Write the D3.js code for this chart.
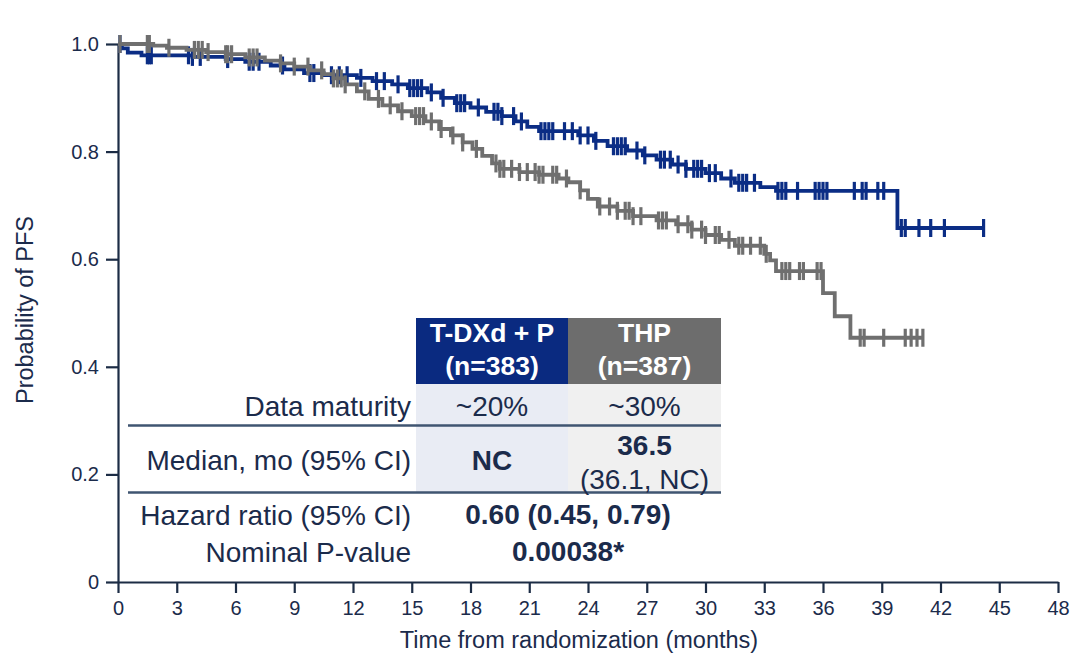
<!DOCTYPE html>
<html lang="en">
<head>
    <meta charset="UTF-8">
    <title>PFS Kaplan-Meier</title>
    <style>
        body {
            margin: 0;
            background-color: white;
        }

        svg {
            display: block;
            font-family: "Liberation Sans", Arial, sans-serif;
        }

        .axis path,
        .axis line {
            stroke: #1c2c45;
            stroke-width: 2.2px;
        }

        .axis text {
            fill: #1b2b4b;
            font-size: 20px;
        }

        .km {
            fill: none;
            stroke-width: 3.8px;
        }

        .censor {
            stroke-width: 3.2px;
        }

        .tbl {
            fill: #1b2b4b;
            font-size: 28px;
        }
    </style>
    <script src="https://d3js.org/d3.v7.min.js"></script>
</head>
<body>

<script>
    const width = 1071;
    const height = 655;

    // T-DXd + P arm: step times (months) and survival after each step
    const tdxdTime = [0, 0.2, 0.5, 1.2, 3.8, 5.5, 6.5, 7.8, 8.5, 9.5, 10.5, 12.2, 13.0, 14.0, 14.8,
                      15.8, 16.5, 17.2, 18.0, 18.8, 19.6, 20.3, 20.9, 21.5, 23.5, 24.3, 25.0, 26.0,
                      26.8, 27.5, 28.3, 29.0, 30.0, 30.8, 31.5, 32.8, 33.6, 39.8];
    const tdxdSurv = [1.0, 0.992, 0.984, 0.979, 0.976, 0.972, 0.967, 0.960, 0.953, 0.946, 0.942, 0.937,
                      0.931, 0.925, 0.918, 0.910, 0.900, 0.890, 0.882, 0.874, 0.866, 0.856, 0.846,
                      0.838, 0.830, 0.820, 0.810, 0.802, 0.793, 0.785, 0.776, 0.768, 0.760, 0.750,
                      0.742, 0.734, 0.727, 0.658];
    const tdxdEnd = 44.2;
    const tdxdCensor = [0.1, 1.5, 1.6, 1.7, 3.6, 3.8, 4.2, 5.6, 6.7, 6.9, 7.2, 8.4, 9.8, 10.0, 10.9,
                        11.3, 11.7, 12.4, 13.2, 13.6, 14.3, 14.9, 15.1, 15.3, 15.5, 16.0, 16.6, 17.3,
                        17.5, 17.7, 18.4, 19.2, 19.4, 19.6, 20.2, 20.6, 21.6, 21.8, 22.0, 22.2, 22.8,
                        23.2, 23.6, 24.0, 24.4, 25.3, 25.5, 25.7, 25.9, 26.5, 26.9, 27.7, 27.9, 28.2,
                        28.6, 29.0, 29.4, 29.6, 29.8, 30.2, 30.5, 31.3, 31.7, 31.9, 32.1, 32.5, 33.7,
                        33.9, 34.1, 34.7, 35.6, 35.8, 36.0, 36.2, 37.6, 38.0, 38.2, 38.8, 39.1, 40.0,
                        40.2, 40.9, 41.5, 42.2, 44.2];

    // THP arm
    const thpTime = [0, 1.8, 2.5, 3.5, 4.5, 5.5, 6.5, 7.5, 8.3, 9.0, 9.8, 10.5, 11.0, 11.6, 12.2,
                     12.8, 13.5, 14.3, 15.0, 15.7, 16.4, 17.0, 17.6, 18.1, 18.6, 19.1, 19.5, 20.5,
                     21.5, 22.5, 23.0, 23.6, 24.0, 24.5, 25.5, 26.3, 27.5, 28.5, 29.3, 30.0, 30.8,
                     31.5, 33.0, 33.3, 33.6, 36.0, 36.6, 37.4];
    const thpSurv = [1.0, 0.997, 0.993, 0.989, 0.985, 0.981, 0.975, 0.969, 0.964, 0.958, 0.951, 0.944,
                     0.936, 0.925, 0.912, 0.898, 0.886, 0.875, 0.866, 0.856, 0.842, 0.830, 0.817,
                     0.805, 0.792, 0.778, 0.768, 0.762, 0.757, 0.750, 0.743, 0.728, 0.712, 0.698,
                     0.690, 0.680, 0.672, 0.665, 0.655, 0.645, 0.636, 0.625, 0.610, 0.598, 0.578,
                     0.537, 0.494, 0.454];
    const thpEnd = 41.1;
    const thpCensor = [0.1, 1.5, 1.6, 2.6, 3.9, 4.1, 4.3, 4.6, 5.5, 5.6, 5.8, 6.7, 6.9, 7.1, 8.3, 9.0,
                       9.7, 10.4, 11.0, 11.2, 11.4, 11.6, 12.6, 13.3, 13.9, 14.5, 15.2, 15.4, 15.6,
                       16.0, 16.5, 17.1, 17.6, 18.3, 19.3, 19.5, 19.7, 20.1, 20.5, 20.9, 21.3, 21.5,
                       21.7, 22.2, 22.4, 22.9, 23.6, 24.6, 25.1, 25.5, 25.9, 26.1, 26.3, 26.7, 27.6,
                       27.8, 28.0, 28.6, 29.1, 29.3, 29.8, 30.0, 30.5, 30.7, 31.2, 31.7, 31.9, 32.3,
                       32.8, 33.1, 33.9, 34.1, 34.3, 34.8, 35.0, 35.7, 35.9, 37.9, 38.1, 39.1, 40.2,
                       40.5, 40.8, 41.1];

    const xTicks = d3.range(0, 49, 3);
    const yTicks = [0, 0.2, 0.4, 0.6, 0.8, 1.0];

    // summary table
    const armNames = ["T-DXd + P", "THP"];
    const armN = ["(n=383)", "(n=387)"];
    const maturity = ["~20%", "~30%"];
    const medianMain = ["NC", "36.5"];
    const medianCI = ["", "(36.1, NC)"];
    const hazardRatio = "0.60 (0.45, 0.79)";
    const pValue = "0.00038*";

    const blue = "#0b2d85";
    const grey = "#6f6f6f";

    const margin = {top: 44, right: 13, bottom: 73, left: 118};

    const svg = d3.select("body")
                  .append("svg")
                  .attr("width", width)
                  .attr("height", height);

    const x = d3.scaleLinear()
                .domain([0, 48])
                .range([margin.left, width - margin.right]);

    const y = d3.scaleLinear()
                .domain([0, 1])
                .range([height - margin.bottom, margin.top]);

    // axes
    svg.append("g")
       .attr("class", "axis")
       .attr("transform", `translate(0,${y(0)})`)
       .call(d3.axisBottom(x).tickValues(xTicks).tickSize(11).tickSizeOuter(0).tickPadding(8));

    svg.append("g")
       .attr("class", "axis")
       .attr("transform", `translate(${x(0)},0)`)
       .call(d3.axisLeft(y).tickValues(yTicks).tickSize(12).tickSizeOuter(0).tickPadding(7)
               .tickFormat(d => d === 0 ? "0" : d3.format(".1f")(d)));

    svg.append("text")
       .attr("x", 579)
       .attr("y", 648)
       .attr("text-anchor", "middle")
       .attr("fill", "#1b2b4b")
       .style("font-size", "23.5px")
       .text("Time from randomization (months)");

    svg.append("text")
       .attr("transform", "translate(33,310) rotate(-90)")
       .attr("text-anchor", "middle")
       .attr("fill", "#1b2b4b")
       .style("font-size", "23.5px")
       .text("Probability of PFS");

    // curves
    function drawArm(times, surv, end, censor, colour) {
        const pts = times.map((t, i) => [t, surv[i]]);
        pts.push([end, surv[surv.length - 1]]);

        const line = d3.line()
                       .x(d => x(d[0]))
                       .y(d => y(d[1]))
                       .curve(d3.curveStepAfter);

        svg.append("path")
           .datum(pts)
           .attr("class", "km")
           .attr("stroke", colour)
           .attr("d", line);

        const survAt = t => surv[Math.max(0, d3.bisectRight(times, t) - 1)];

        svg.append("g")
           .selectAll("line")
           .data(censor)
           .enter()
           .append("line")
           .attr("class", "censor")
           .attr("stroke", colour)
           .attr("x1", d => x(d))
           .attr("x2", d => x(d))
           .attr("y1", d => y(survAt(d)) - 9)
           .attr("y2", d => y(survAt(d)) + 9);
    }

    drawArm(tdxdTime, tdxdSurv, tdxdEnd, tdxdCensor, blue);
    drawArm(thpTime, thpSurv, thpEnd, thpCensor, grey);

    // table
    const colX = [416, 568, 721];
    const colMid = [(colX[0] + colX[1]) / 2, (colX[1] + colX[2]) / 2];
    const tbl = svg.append("g");

    tbl.append("rect").attr("x", colX[0]).attr("y", 384).attr("width", colX[1] - colX[0])
       .attr("height", 108).attr("fill", "#e9ecf4");
    tbl.append("rect").attr("x", colX[1]).attr("y", 384).attr("width", colX[2] - colX[1])
       .attr("height", 108).attr("fill", "#f0f0f0");
    tbl.append("rect").attr("x", colX[0]).attr("y", 318).attr("width", colX[1] - colX[0])
       .attr("height", 66).attr("fill", "#0a2a80");
    tbl.append("rect").attr("x", colX[1]).attr("y", 318).attr("width", colX[2] - colX[1])
       .attr("height", 66).attr("fill", "#6d6d6d");

    [425.5, 492.5].forEach(ly => {
        tbl.append("line").attr("x1", 128).attr("x2", colX[2]).attr("y1", ly).attr("y2", ly)
           .attr("stroke", "#3f5571").attr("stroke-width", 2.4);
    });

    function cell(tx, ty, str, opts = {}) {
        tbl.append("text")
           .attr("class", "tbl")
           .attr("x", tx)
           .attr("y", ty)
           .attr("text-anchor", opts.anchor || "middle")
           .style("font-weight", opts.bold ? "bold" : null)
           .style("font-size", opts.size || null)
           .style("fill", opts.fill || null)
           .text(str);
    }

    armNames.forEach((n, i) => {
        cell(colMid[i], 342, n, {bold: true, fill: "white", size: "26.5px"});
        cell(colMid[i], 375, armN[i], {bold: true, fill: "white", size: "26.5px"});
        cell(colMid[i], 416, maturity[i]);
        if (medianCI[i]) {
            cell(colMid[i], 455, medianMain[i], {bold: true});
            cell(colMid[i], 489, medianCI[i]);
        } else {
            cell(colMid[i], 470, medianMain[i], {bold: true});
        }
    });

    const labelX = 411;
    cell(labelX, 416, "Data maturity", {anchor: "end"});
    cell(labelX, 470, "Median, mo (95% CI)", {anchor: "end"});
    cell(labelX, 525, "Hazard ratio (95% CI)", {anchor: "end"});
    cell(labelX, 562, "Nominal P-value", {anchor: "end"});
    cell(colX[1], 524, hazardRatio, {bold: true});
    cell(colX[1], 561, pValue, {bold: true});
</script>

</body>
</html>
